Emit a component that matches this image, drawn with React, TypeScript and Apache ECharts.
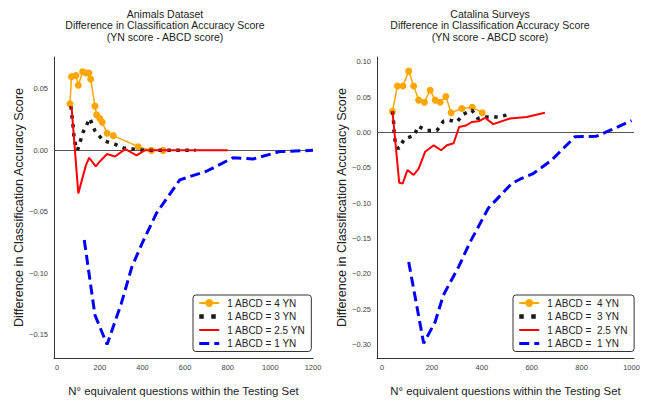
import React, { useEffect, useRef } from "react";
import * as echarts from "echarts";

// ---------- Animals Dataset (left panel) ----------
const aOrangeX = [60, 67, 88, 99, 119, 135, 149, 157, 177, 185, 200, 211, 234, 263, 380, 442, 497];
const aOrangeY = [0.038, 0.060, 0.061, 0.053, 0.064, 0.063, 0.063, 0.058, 0.036, 0.029, 0.026, 0.023, 0.014, 0.012, 0.003, 0.000, 0.000];

const aBlackX = [64, 75, 80, 95, 122, 153, 177, 216, 270, 310, 360, 410, 500, 650];
const aBlackY = [0.036, 0.019, 0.008, 0.000, 0.015, 0.026, 0.016, 0.008, 0.005, 0.002, 0.001, 0.000, 0.000, 0.000];

const aRedX = [67, 99, 135, 150, 181, 200, 234, 271, 320, 372, 411, 500, 600, 700, 800];
const aRedY = [0.036, -0.035, -0.012, -0.006, -0.013, -0.009, -0.003, -0.005, 0.001, -0.004, 0.000, 0.000, 0.000, 0.000, 0.000];

const aBlueX = [127, 177, 234, 300, 350, 400, 466, 575, 700, 825, 919, 1044, 1200];
const aBlueY = [-0.073, -0.134, -0.158, -0.125, -0.095, -0.075, -0.051, -0.024, -0.017, -0.006, -0.007, -0.001, 0.000];

// ---------- Catalina Surveys (right panel) ----------
const cOrangeX = [42, 62, 84, 107, 127, 147, 170, 193, 213, 233, 256, 277, 320, 362, 402];
const cOrangeY = [0.030, 0.066, 0.066, 0.087, 0.066, 0.046, 0.043, 0.060, 0.046, 0.043, 0.051, 0.028, 0.034, 0.036, 0.028];

const cBlackX = [42, 47, 49, 56, 66, 90, 130, 144, 180, 220, 246, 266, 300, 326, 360, 384, 420, 466, 513];
const cBlackY = [0.030, 0.013, -0.004, -0.018, -0.023, -0.009, -0.004, 0.009, 0.003, 0.003, 0.016, 0.018, 0.015, 0.026, 0.032, 0.020, 0.022, 0.022, 0.026];

const cRedX = [42, 69, 83, 102, 127, 147, 173, 207, 237, 260, 287, 309, 336, 360, 387, 413, 446, 513, 580, 653];
const cRedY = [0.030, -0.071, -0.072, -0.053, -0.060, -0.051, -0.027, -0.018, -0.025, -0.018, -0.015, 0.008, 0.010, 0.015, 0.016, 0.021, 0.012, 0.020, 0.022, 0.028];

const cBlueX = [107, 167, 213, 246, 307, 353, 426, 520, 553, 606, 680, 773, 860, 913, 1000];
const cBlueY = [-0.183, -0.298, -0.268, -0.230, -0.190, -0.155, -0.107, -0.072, -0.066, -0.058, -0.039, -0.006, -0.005, 0.003, 0.017];

// ---------- labels / ticks ----------
const leftNames = ["1 ABCD = 4 YN", "1 ABCD = 3 YN", "1 ABCD = 2.5 YN", "1 ABCD = 1 YN"];
const rightNames = ["1 ABCD =  4 YN", "1 ABCD =  3 YN", "1 ABCD =  2.5 YN", "1 ABCD =  1 YN"];
const leftTitle = ["Animals Dataset", "Difference in Classification Accuracy Score", "(YN score - ABCD score)"];
const rightTitle = ["Catalina Surveys", "Difference in Classification Accuracy Score", "(YN score - ABCD score)"];
const yName = "Difference in Classification Accuracy Score";
const xName = "N\u00b0 equivalent questions within the Testing Set";
const leftXTicks = [0, 200, 400, 600, 800, 1000, 1200];
const rightXTicks = [0, 200, 400, 600, 800, 1000];
const leftYTicks = [-0.15, -0.1, -0.05, 0, 0.05];
const rightYTicks = [-0.3, -0.25, -0.2, -0.15, -0.1, -0.05, 0, 0.05, 0.1];

const FONT = "Liberation Sans, Arial, sans-serif";
const zip = (xs: number[], ys: number[]) => xs.map((x, i) => [x, ys[i]]);
const fmtY = (v: number) => (v < -1e-9 ? "\u2212" + Math.abs(v).toFixed(2) : Math.abs(v).toFixed(2));

export default function App() {
  const ref = useRef<HTMLDivElement>(null);
  useEffect(() => {
    if (!ref.current) return;
    const chart = echarts.init(ref.current, null, { renderer: "svg" });

    const grids = [
      { left: 54, top: 57, width: 259, height: 301 },
      { left: 377, top: 57, width: 257, height: 301 },
    ];

    const mkX = (gi: number, min: number, max: number, ticks: number[]) => ({
      type: "value",
      gridIndex: gi,
      min,
      max,
      name: xName,
      nameLocation: "middle",
      nameGap: 27,
      nameTextStyle: { fontSize: 11.4, color: "#222", fontFamily: FONT },
      axisLine: { show: true, onZero: false, lineStyle: { color: "#333", width: 1 } },
      axisTick: { show: false },
      splitLine: { show: false },
      axisLabel: {
        customValues: ticks,
        fontSize: 7.5,
        color: "#444",
        fontFamily: FONT,
        margin: 5,
        formatter: (v: number) => String(Math.round(v)),
      },
    });

    const mkY = (gi: number, min: number, max: number, ticks: number[]) => ({
      type: "value",
      gridIndex: gi,
      min,
      max,
      name: yName,
      nameLocation: "middle",
      nameRotate: 90,
      nameGap: 27,
      nameTextStyle: { fontSize: 12.6, color: "#222", fontFamily: FONT },
      axisLine: { show: true, onZero: false, lineStyle: { color: "#333", width: 1 } },
      axisTick: { show: false },
      splitLine: { show: false },
      axisLabel: {
        customValues: ticks,
        fontSize: 7.5,
        color: "#444",
        fontFamily: FONT,
        margin: 6,
        formatter: (v: number) => fmtY(v),
      },
    });

    const mkSeries = (gi: number, names: string[], data: number[][][]) => [
      {
        name: names[0],
        type: "line",
        xAxisIndex: gi,
        yAxisIndex: gi,
        data: data[0],
        symbol: "circle",
        symbolSize: 7,
        showSymbol: true,
        itemStyle: { color: "#FFA500" },
        lineStyle: { color: "#FFA500", width: 1.5 },
        z: 2,
      },
      {
        name: names[1],
        type: "line",
        xAxisIndex: gi,
        yAxisIndex: gi,
        data: data[1],
        symbol: "none",
        itemStyle: { color: "#1a1a1a" },
        lineStyle: { color: "#1a1a1a", width: 3.5, type: [3.5, 5.5], cap: "butt" },
        z: 3,
      },
      {
        name: names[2],
        type: "line",
        xAxisIndex: gi,
        yAxisIndex: gi,
        data: data[2],
        symbol: "none",
        itemStyle: { color: "#FF0000" },
        lineStyle: { color: "#FF0000", width: 2 },
        z: 4,
        markLine: {
          silent: true,
          symbol: "none",
          label: { show: false },
          lineStyle: { color: "#555", width: 1.2, type: "solid" },
          data: [{ yAxis: 0 }],
          z: 1,
        },
      },
      {
        name: names[3],
        type: "line",
        xAxisIndex: gi,
        yAxisIndex: gi,
        data: data[3],
        symbol: "none",
        itemStyle: { color: "#0000FF" },
        lineStyle: { color: "#0000FF", width: 3, type: [10, 5], cap: "butt" },
        z: 5,
      },
    ];

    const mkLegend = (left: number, names: string[]) => ({
      data: [
        { name: names[0] },
        { name: names[1], itemStyle: { opacity: 0 }, lineStyle: { width: 4.5, type: [4.5, 7.5] } },
        { name: names[2], itemStyle: { opacity: 0 }, lineStyle: { width: 2 } },
        { name: names[3], itemStyle: { opacity: 0 }, lineStyle: { width: 3, type: [10, 5] } },
      ],
      orient: "vertical",
      left,
      top: 295,
      padding: [3, 6, 3, 4],
      itemWidth: 20,
      itemHeight: 10,
      itemGap: 3.5,
      backgroundColor: "#fff",
      borderColor: "#333",
      borderWidth: 1,
      borderRadius: 3,
      selectedMode: false,
      textStyle: { fontSize: 10, color: "#222", fontFamily: FONT, padding: [0, 0, 0, 3] },
    });

    const titleText = (cx: number, lines: string[]) =>
      lines.map((t, i) => ({
        type: "text",
        x: cx,
        y: 13.5 + i * 11.5,
        style: {
          text: t,
          textAlign: "center",
          textVerticalAlign: "middle",
          fontSize: 10.5,
          fontFamily: FONT,
          fill: "#222",
        },
      }));

    chart.setOption({
      animation: false,
      backgroundColor: "#fff",
      grid: grids,
      xAxis: [mkX(0, -15, 1200, leftXTicks), mkX(1, -20, 1010, rightXTicks)],
      yAxis: [mkY(0, -0.169, 0.076, leftYTicks), mkY(1, -0.319, 0.107, rightYTicks)],
      legend: [mkLegend(193, leftNames), mkLegend(513, rightNames)],
      graphic: [...titleText(165, leftTitle), ...titleText(490, rightTitle)],
      series: [
        ...mkSeries(0, leftNames, [
          zip(aOrangeX, aOrangeY),
          zip(aBlackX, aBlackY),
          zip(aRedX, aRedY),
          zip(aBlueX, aBlueY),
        ]),
        ...mkSeries(1, rightNames, [
          zip(cOrangeX, cOrangeY),
          zip(cBlackX, cBlackY),
          zip(cRedX, cRedY),
          zip(cBlueX, cBlueY),
        ]),
      ],
    });
    return () => chart.dispose();
  }, []);
  return (
    <div
      ref={ref}
      style={{ position: "fixed", left: 0, top: 0, width: 647, height: 402, background: "#fff" }}
    />
  );
}
